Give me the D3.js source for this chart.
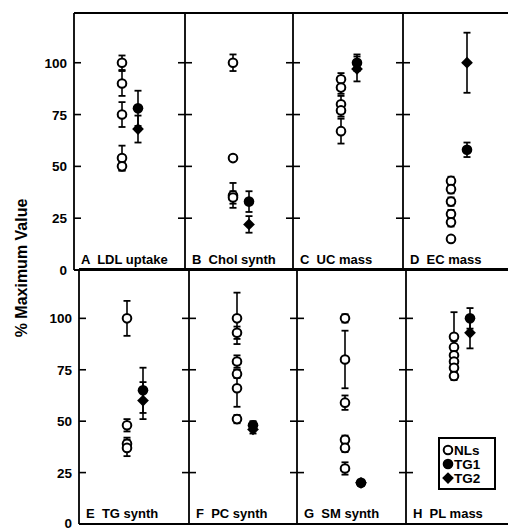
<!DOCTYPE html>
<html><head><meta charset="utf-8">
<script src="https://cdn.jsdelivr.net/npm/d3@7"></script>
<style>
html,body{margin:0;padding:0;background:#fff;}
svg text{font-family:"Liberation Sans",Arial,sans-serif;font-weight:bold;fill:#000;}
</style></head>
<body><svg id="chart" width="508" height="530"></svg>
<script>
// ---- data ----
const panelLetters = ["A","B","C","D","E","F","G","H"];
const panelTitles = ["LDL uptake","Chol synth","UC mass","EC mass","TG synth","PC synth","SM synth","PL mass"];
const nlsValues = [
  [100, 90, 75, 54, 50],
  [100, 54, 36, 35],
  [92, 88, 80, 77, 67],
  [43, 39, 33, 27, 23, 15],
  [100, 48, 39, 37],
  [100, 93, 79, 73, 66, 51],
  [100, 80, 59, 41, 37, 27],
  [91, 86, 82, 79, 76, 72]
];
const nlsErrors = [
  [3.5, 6, 6, 6, 2],
  [4, 0, 6, 3],
  [3, 3, 4, 3, 6],
  [2, 2, 2, 2, 2, 0],
  [8.5, 3, 3, 4],
  [12.5, 3, 3, 2, 9, 2],
  [2, 14, 3.5, 2, 2, 3],
  [12, 3, 3, 2, 2, 2]
];
const tg1Values = [78, 33, 100, 58, 65, 48, 20, 100];
const tg1Errors = [8.5, 5, 4, 3.5, 11, 2, 1.5, 5];
const tg2Values = [68, 22, 97, 100, 60, 46, 20, 93];
const tg2Errors = [6.5, 4, 6, 14.5, 9, 2, 1, 7.6];
const yTicks = [0, 25, 50, 75, 100];
const groups = ["NLs", "TG"];
const legendLabels = ["NLs", "TG1", "TG2"];

// ---- layout ----
const svg = d3.select("#chart");
const rows = [
  {top: 13, bottom: 270, lefts: [74, 185, 293, 403], right: 515},
  {top: 269, bottom: 524, lefts: [79, 189, 297, 406], right: 518}
];
const yMax = 124;

function drawErr(g, x, v, e, y) {
  if (!e) return;
  const cw = 3.5;
  g.append("line").attr("x1", x).attr("x2", x).attr("y1", y(v + e)).attr("y2", y(v - e))
    .attr("stroke", "#000").attr("stroke-width", 1.6);
  [v + e, v - e].forEach(t => g.append("line").attr("x1", x - cw).attr("x2", x + cw)
    .attr("y1", y(t)).attr("y2", y(t)).attr("stroke", "#000").attr("stroke-width", 1.8));
}
function openCircle(g, x, yy) {
  g.append("circle").attr("cx", x).attr("cy", yy).attr("r", 4.3)
    .attr("fill", "#fff").attr("stroke", "#000").attr("stroke-width", 2);
}
function filledCircle(g, x, yy) {
  g.append("circle").attr("cx", x).attr("cy", yy).attr("r", 5.3).attr("fill", "#000");
}
function diamond(g, x, yy) {
  g.append("path").attr("d", d3.symbol().type(d3.symbolDiamond2).size(88)())
    .attr("transform", `translate(${x},${yy})`).attr("fill", "#000");
}

rows.forEach((row, ri) => {
  const y = d3.scaleLinear().domain([0, yMax]).range([row.bottom, row.top]);
  const edges = row.lefts.concat([row.right]);
  svg.append("line").attr("x1", row.lefts[0]).attr("x2", row.right).attr("y1", row.top).attr("y2", row.top)
    .attr("stroke", "#000").attr("stroke-width", 2.2);
  svg.append("line").attr("x1", row.lefts[0]).attr("x2", row.right).attr("y1", row.bottom).attr("y2", row.bottom)
    .attr("stroke", "#000").attr("stroke-width", 2.2);
  edges.forEach((ex, i) => {
    svg.append("line").attr("x1", ex).attr("x2", ex).attr("y1", row.top).attr("y2", row.bottom)
      .attr("stroke", "#000").attr("stroke-width", 1.8);
    yTicks.filter(t => t > 0).forEach(t => {
      svg.append("line").attr("x1", i === 0 ? ex : ex - 7).attr("x2", ex + 7)
        .attr("y1", y(t)).attr("y2", y(t)).attr("stroke", "#000").attr("stroke-width", 1.6);
    });
  });
  yTicks.forEach(t => {
    svg.append("text").attr("x", row.lefts[0] - 7).attr("y", Math.min(y(t) + 5, 528))
      .attr("text-anchor", "end").attr("font-size", 13.5).text(t);
  });
  for (let c = 0; c < 4; c++) {
    const p = ri * 4 + c;
    const left = row.lefts[c];
    const x = d3.scalePoint().domain(groups).range([left + 48, left + 64]);
    const g = svg.append("g");
    nlsValues[p].forEach((v, k) => drawErr(g, x("NLs"), v, nlsErrors[p][k], y));
    drawErr(g, x("TG"), tg1Values[p], tg1Errors[p], y);
    drawErr(g, x("TG"), tg2Values[p], tg2Errors[p], y);
    nlsValues[p].forEach(v => openCircle(g, x("NLs"), y(v)));
    filledCircle(g, x("TG"), y(tg1Values[p]));
    diamond(g, x("TG"), y(tg2Values[p]));
    svg.append("text").attr("x", left + 7).attr("y", row.bottom - 6)
      .attr("font-size", 13).style("white-space", "pre")
      .text(`${panelLetters[p]}  ${panelTitles[p]}`);
  }
});

// legend
const lg = svg.append("g");
lg.append("rect").attr("x", 439).attr("y", 438).attr("width", 56).attr("height", 51)
  .attr("fill", "#fff").attr("stroke", "#000").attr("stroke-width", 2);
const ly = [450, 464, 478];
openCircle(lg, 448, ly[0]);
filledCircle(lg, 448, ly[1]);
diamond(lg, 448, ly[2]);
legendLabels.forEach((l, i) => lg.append("text").attr("x", 454).attr("y", ly[i] + 5)
  .attr("font-size", 13.5).text(l));

// y title
svg.append("text").attr("transform", "translate(27,268) rotate(-90)")
  .attr("text-anchor", "middle").attr("font-size", 16).text("% Maximum Value");
</script></body></html>
